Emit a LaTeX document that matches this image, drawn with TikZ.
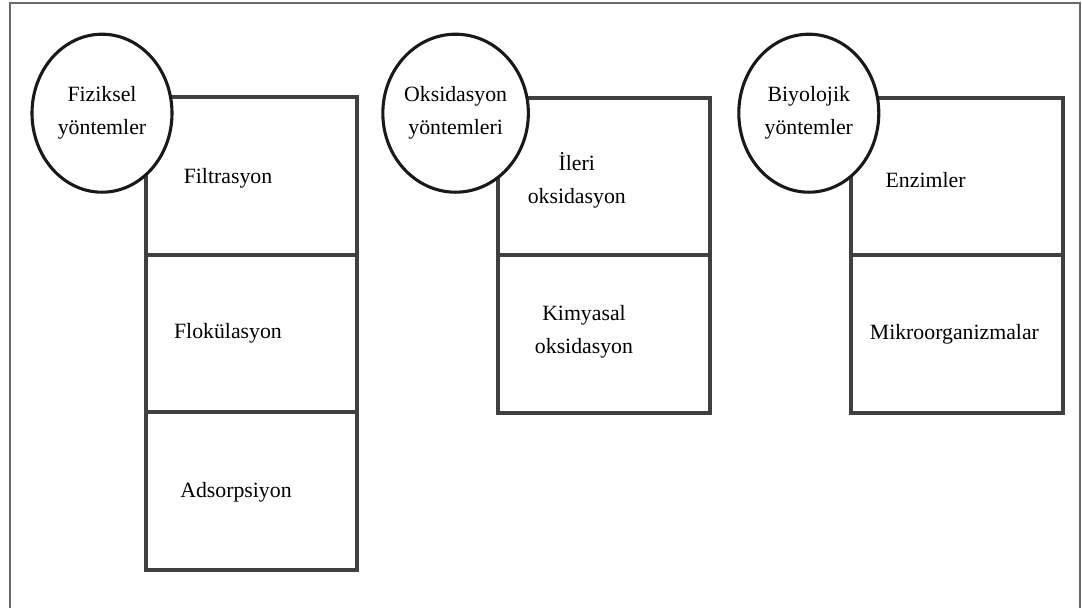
\documentclass[tikz,border=0pt]{standalone}
\usepackage{fontspec}
\setmainfont{Liberation Serif}
\usetikzlibrary{shapes,positioning}
\definecolor{kutugri}{HTML}{404040}
\definecolor{cercevegri}{HTML}{6A6A6A}
\tikzset{kutu/.style={rectangle,draw=kutugri,line width=2.8pt,minimum width=5.29cm,minimum height=3.94cm,inner sep=0pt,outer sep=0pt},
	grup/.style={ellipse,draw=black!90,line width=2.2pt,fill=white,minimum width=3.5cm,minimum height=3.95cm,inner sep=0pt,align=center},
	yazi/.style={align=center,inner sep=0pt}}

\begin{document}
\begin{tikzpicture}[font=\fontsize{15.5}{23.5}\selectfont]
		\useasboundingbox (0,0) rectangle (27.05,-15.175);
		% dis cerceve (alt kenari kesik)
		\draw[cercevegri,line width=1.3pt] (0.24,-15.3)--(0.24,-0.07)--(27.0,-0.07)--(27.0,-15.3);
		
		% fiziksel
		\node[kutu,anchor=north] (filtrasyon) at (6.29,-2.43) {};
		\node[kutu,below=0pt of filtrasyon] (flokulasyon) {};
		\node[kutu,below=0pt of flokulasyon] (adsorpsiyon) {};
		% oksidasyon
		\node[kutu,anchor=north] (ileri) at (15.1,-2.44) {};
		\node[kutu,below=0pt of ileri] (kimyasal) {};
		% biyolojik
		\node[kutu,anchor=north] (enzim) at (23.92,-2.44) {};
		\node[kutu,below=0pt of enzim] (mikro) {};
		
		\node[yazi] (t1) at ([xshift=-0.59cm,yshift=-0.05cm]filtrasyon.center) {Filtrasyon};
		\node[yazi] (t2) at ([xshift=-0.59cm]flokulasyon.center) {Flokülasyon};
		\node[yazi] (t3) at ([xshift=-0.39cm,yshift=-0.02cm]adsorpsiyon.center) {Adsorpsiyon};
		\node[yazi] (t4) at ([xshift=-0.68cm,yshift=-0.1cm]ileri.center) {İleri\\oksidasyon};
		\node[yazi] (t5) at ([xshift=-0.5cm,yshift=0.05cm]kimyasal.center) {Kimyasal\\oksidasyon};
		\node[yazi] (t6) at ([xshift=-0.78cm,yshift=-0.1cm]enzim.center) {Enzimler};
		\node[yazi] (t7) at ([xshift=-0.06cm]mikro.center) {Mikroorganizmalar};
		
		% gruplar
		\node[grup] (fiz) at (2.55,-2.83) {Fiziksel\\yöntemler};
		\node[grup] (oks) at (11.39,-2.83) {Oksidasyon\\yöntemleri};
		\node[grup] (biy) at (20.22,-2.83) {Biyolojik\\yöntemler};
		
		\end{tikzpicture}
\end{document}
